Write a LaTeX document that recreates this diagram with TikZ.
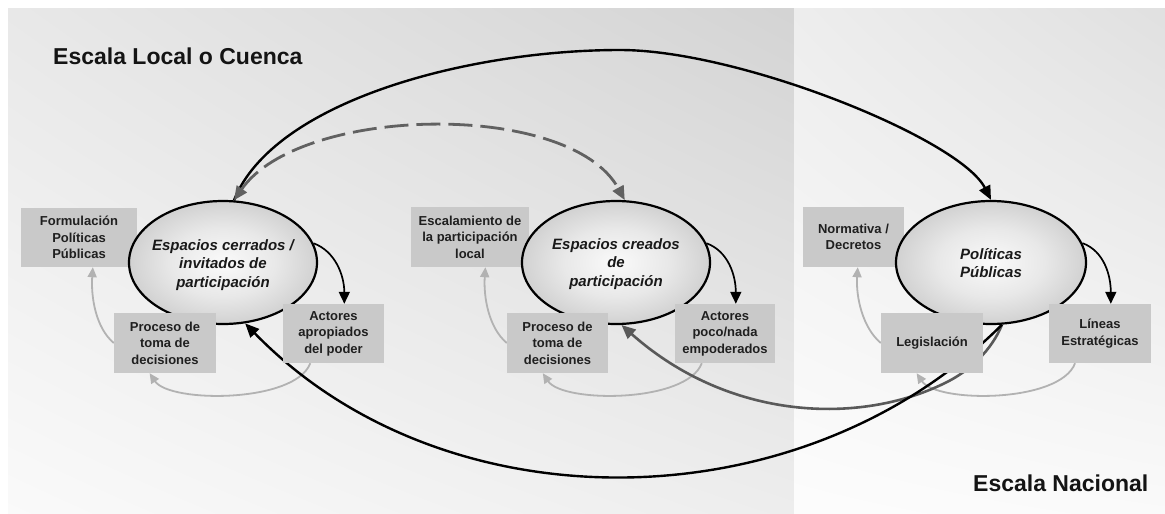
\documentclass[tikz,border=0pt]{standalone}
\usepackage{fontspec}
\setmainfont{Liberation Sans}
\usetikzlibrary{arrows.meta,shapes.geometric,shadings}
\pgfdeclarelayer{bg}
\pgfdeclarelayer{grays}
\pgfdeclarelayer{curves}
\pgfsetlayers{bg,grays,curves,main}
\pgfdeclareradialshading{ellshade}{\pgfpoint{0bp}{0bp}}{color(0bp)=(black!2); color(14bp)=(black!9); color(30bp)=(black!22); color(42bp)=(black!34); color(50bp)=(black!44)}
\tikzset{
 ell/.style={ellipse, draw=black, line width=2.2pt, shade, shading=ellshade, minimum height=123pt, inner sep=0pt},
 elltext/.style={font=\bfseries\itshape\fontsize{15}{18.5}\selectfont, align=center, text=black!90, inner sep=0pt},
 box/.style={rectangle, fill=black!21, inner sep=0pt, align=center, font=\bfseries\fontsize{13}{16.5}\selectfont, text=black!88},
 scaletitle/.style={font=\bfseries\fontsize{23}{27}\selectfont, text=black!92, inner sep=0pt},
 smallarrow/.style={draw=black, line width=1.7pt, -{Triangle[length=12pt,width=11pt]}},
 grayarrow/.style={draw=black!30, line width=1.8pt, -{Triangle[length=10pt,width=9pt]}},
 bigarrow/.style={draw=black, line width=2.4pt, -{Triangle[length=14pt,width=12pt]}},
 darkarrow/.style={draw=black!65, line width=2.6pt, -{Triangle[length=14pt,width=12pt]}},
 dasharrow/.style={draw=black!62, line width=2.8pt, dash pattern=on 24pt off 8pt, {Triangle[length=14pt,width=12pt]}-{Triangle[length=14pt,width=12pt]}},
}
\begin{document}
\begin{tikzpicture}[x=1pt,y=-1pt]
\useasboundingbox (0,0) rectangle (1165,514);
\begin{pgfonlayer}{bg}
\fill[white] (0,0) rectangle (1165,514);
\shade[upper left=black!9, upper right=black!17, lower left=black!2, lower right=black!7] (8,8) rectangle (794,514);
\shade[upper left=black!7, upper right=black!12, lower left=black!1, lower right=black!2] (794,8) rectangle (1165,514);
\end{pgfonlayer}

\node[scaletitle, anchor=base west] (tl) at (53,64) {Escala Local o Cuenca};
\node[scaletitle, anchor=base west] (tn) at (973,491) {Escala Nacional};

% upper boxes (behind ellipses)
\node[box, minimum width=116pt, minimum height=59pt] (b1a) at (79,237.5) {Formulación\\Políticas\\Públicas};
\node[box, minimum width=118pt, minimum height=60pt] (b2a) at (470,237) {Escalamiento de\\la participación\\local};
\node[box, minimum width=101pt, minimum height=60pt] (b3a) at (853.5,237) {Normativa /\\Decretos};

% ellipses
\node[ell, minimum width=188pt] (e1) at (223,262.5) {};
\node[ell, minimum width=188pt] (e2) at (616,262.5) {};
\node[ell, minimum width=190pt] (e3) at (991,262.5) {};
\node[elltext] (e1t) at (223,265) {Espacios cerrados /\\invitados de\\participación};
\node[elltext] (e2t) at (616,264) {Espacios creados\\de\\participación};
\node[elltext] (e3t) at (991,263) {Políticas\\Públicas};

% lower boxes
\node[box, minimum width=102pt, minimum height=60pt] (b1b) at (165,343) {Proceso de\\toma de\\decisiones};
\node[box, minimum width=101pt, minimum height=59pt] (b1c) at (333.5,333.5) {Actores\\apropiados\\del poder};
\node[box, minimum width=101pt, minimum height=60pt] (b2b) at (557.5,343) {Proceso de\\toma de\\decisiones};
\node[box, minimum width=100pt, minimum height=59pt] (b2c) at (725,333.5) {Actores\\poco/nada\\empoderados};
\node[box, minimum width=102pt, minimum height=60pt] (b3b) at (932,343) {Legislación};
\node[box, minimum width=102pt, minimum height=59pt] (b3c) at (1100,333.5) {Líneas\\Estratégicas};

% big curves
\begin{pgfonlayer}{curves}
\coordinate (apex) at (620,50);
\coordinate (junc) at (945,383);
\draw[bigarrow] (e1.80) .. controls +(40,-100) and +(-150,0) .. (apex) .. controls +(120,0) and +(-31,-61) .. (e3.north);
\draw[dasharrow] (e1.80) .. controls (300,105) and (570,100) .. (e2.82);
\draw[darkarrow] (e3.-80) .. controls +(-10,25) and +(25,-12) .. (junc) .. controls +(-85,42) and +(108,96) .. (e2.-85);
\draw[bigarrow] (e3.-80) .. controls +(-200,200) and +(200,206) .. (e1.-70);
\end{pgfonlayer}

% gray cycle arrows
\begin{pgfonlayer}{grays}
\draw[grayarrow] (b1c.-128) .. controls +(-15,40) and +(20,30) .. (b1b.-117);
\draw[grayarrow] (b1b.west) .. controls +(-18,-15) and +(-2,30) .. (b1a.-65);
\draw[grayarrow] (b2c.-128) .. controls +(-15,40) and +(20,30) .. (b2b.-116);
\draw[grayarrow] (b2b.west) .. controls +(-18,-15) and +(-2,30) .. (b2a.-63);
\draw[grayarrow] (b3c.-130) .. controls +(-15,40) and +(20,30) .. (b3b.-117);
\draw[grayarrow] (b3b.west) .. controls +(-18,-15) and +(-2,30) .. (b3a.-82);
\end{pgfonlayer}

% small black arrows
\draw[smallarrow] (e1.12) .. controls +(22,8) and +(0,-28) .. (b1c.70);
\draw[smallarrow] (e2.12) .. controls +(22,8) and +(0,-28) .. (b2c.70);
\draw[smallarrow] (e3.12) .. controls +(22,8) and +(0,-28) .. (b3c.70);
\end{tikzpicture}
\end{document}
